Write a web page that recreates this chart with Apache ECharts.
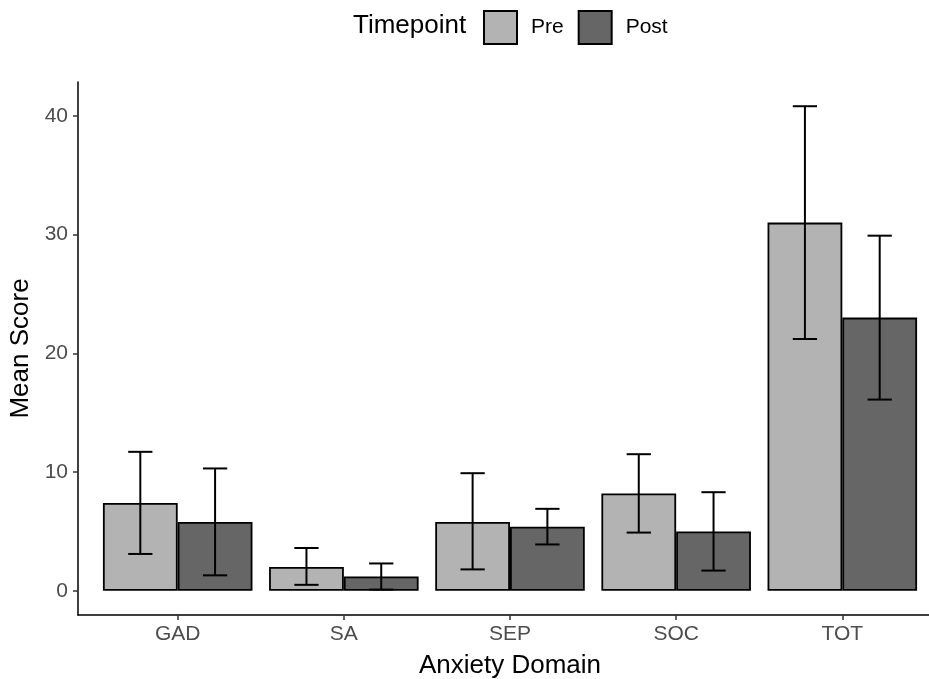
<!DOCTYPE html>
<html>
<head>
<meta charset="utf-8">
<script src="https://cdn.jsdelivr.net/npm/echarts@6/dist/echarts.min.js"></script>
<style>
  html, body { margin: 0; padding: 0; background: #fff; }
  #chart { width: 929px; height: 679px; }
</style>
</head>
<body>
<div id="chart"></div>
<script>
// anxiety domains on the x axis
const categories = ['GAD', 'SA', 'SEP', 'SOC', 'TOT']
const yTicks = [0, 10, 20, 30, 40]

// Pre: mean and error bar ends
const preMean = [7.4, 2.0, 5.8, 8.2, 31.0]
const preLow = [3.1, 0.5, 1.8, 4.9, 21.2]
const preHigh = [11.7, 3.6, 9.9, 11.5, 40.8]

// Post: mean and error bar ends
const postMean = [5.8, 1.2, 5.4, 5.0, 23.0]
const postLow = [1.3, 0.1, 3.9, 1.7, 16.1]
const postHigh = [10.3, 2.3, 6.9, 8.3, 29.9]

const font = "'Liberation Sans', Arial, sans-serif"
const xs = categories.map((c, i) => i + 1)

// error bars, shifted to the middle of each dodged bar
function errorBar(side) {
  return function (params, api) {
    const x = api.value(0)
    const band = api.size([1, 0])[0]
    const dx = side * band * 0.225
    const cap = band * 0.073
    const lo = api.coord([x, api.value(1)])
    const hi = api.coord([x, api.value(2)])
    const cx = lo[0] + dx
    const style = { stroke: '#000', lineWidth: 2 }
    return {
      type: 'group',
      children: [
        { type: 'line', shape: { x1: cx, y1: lo[1], x2: cx, y2: hi[1] }, style },
        { type: 'line', shape: { x1: cx - cap, y1: hi[1], x2: cx + cap, y2: hi[1] }, style },
        { type: 'line', shape: { x1: cx - cap, y1: lo[1], x2: cx + cap, y2: lo[1] }, style },
      ],
    }
  }
}

const chart = echarts.init(document.getElementById('chart'))
chart.setOption({
  animation: false,
  textStyle: { fontFamily: font },
  title: {
    text: 'Timepoint',
    left: 353,
    top: 13,
    padding: 0,
    textStyle: { fontFamily: font, fontSize: 26, fontWeight: 'normal', color: '#000' },
  },
  legend: {
    data: ['Pre', 'Post'],
    left: 483,
    top: 10,
    padding: 0,
    icon: 'rect',
    itemWidth: 33,
    itemHeight: 33,
    itemGap: 14,
    itemStyle: { borderColor: '#000', borderWidth: 2 },
    textStyle: { fontFamily: font, fontSize: 21, color: '#000', padding: [0, 0, 0, 9] },
  },
  grid: { left: 78, width: 864, top: 82, bottom: 64, outerBoundsMode: 'none', containLabel: false },
  xAxis: {
    type: 'value',
    min: 0.4,
    max: 5.6,
    name: 'Anxiety Domain',
    nameLocation: 'middle',
    nameGap: 38,
    nameTextStyle: { fontFamily: font, fontSize: 26, color: '#000' },
    splitLine: { show: false },
    axisLine: { show: true, onZero: false, lineStyle: { color: '#000', width: 1.5 } },
    axisTick: { show: true, length: 5, customValues: xs, lineStyle: { color: '#333', width: 1.5 } },
    axisLabel: {
      customValues: xs,
      margin: 9,
      fontSize: 21,
      color: '#4d4d4d',
      formatter: (v) => categories[Math.round(v) - 1] || '',
    },
  },
  yAxis: {
    type: 'value',
    min: -2.04,
    max: 42.84,
    name: 'Mean Score',
    nameLocation: 'middle',
    nameGap: 31,
    nameTextStyle: { fontFamily: font, fontSize: 26, color: '#000' },
    splitLine: { show: false },
    axisLine: { show: true, onZero: false, lineStyle: { color: '#000', width: 1.5 } },
    axisTick: { show: true, length: 5, customValues: yTicks, lineStyle: { color: '#333', width: 1.5 } },
    axisLabel: { customValues: yTicks, margin: 10, fontSize: 21, color: '#4d4d4d' },
  },
  series: [
    {
      name: 'Pre',
      type: 'bar',
      barWidth: '45%',
      barGap: '0%',
      data: xs.map((x, i) => [x, preMean[i]]),
      itemStyle: { color: '#b3b3b3', borderColor: '#000', borderWidth: 1.8 },
    },
    {
      name: 'Post',
      type: 'bar',
      barWidth: '45%',
      barGap: '0%',
      data: xs.map((x, i) => [x, postMean[i]]),
      itemStyle: { color: '#666666', borderColor: '#000', borderWidth: 1.8 },
    },
    {
      type: 'custom',
      renderItem: errorBar(-1),
      encode: { x: 0, y: [1, 2] },
      data: xs.map((x, i) => [x, preLow[i], preHigh[i]]),
      z: 10,
    },
    {
      type: 'custom',
      renderItem: errorBar(1),
      encode: { x: 0, y: [1, 2] },
      data: xs.map((x, i) => [x, postLow[i], postHigh[i]]),
      z: 10,
    },
  ],
})
</script>
</body>
</html>
